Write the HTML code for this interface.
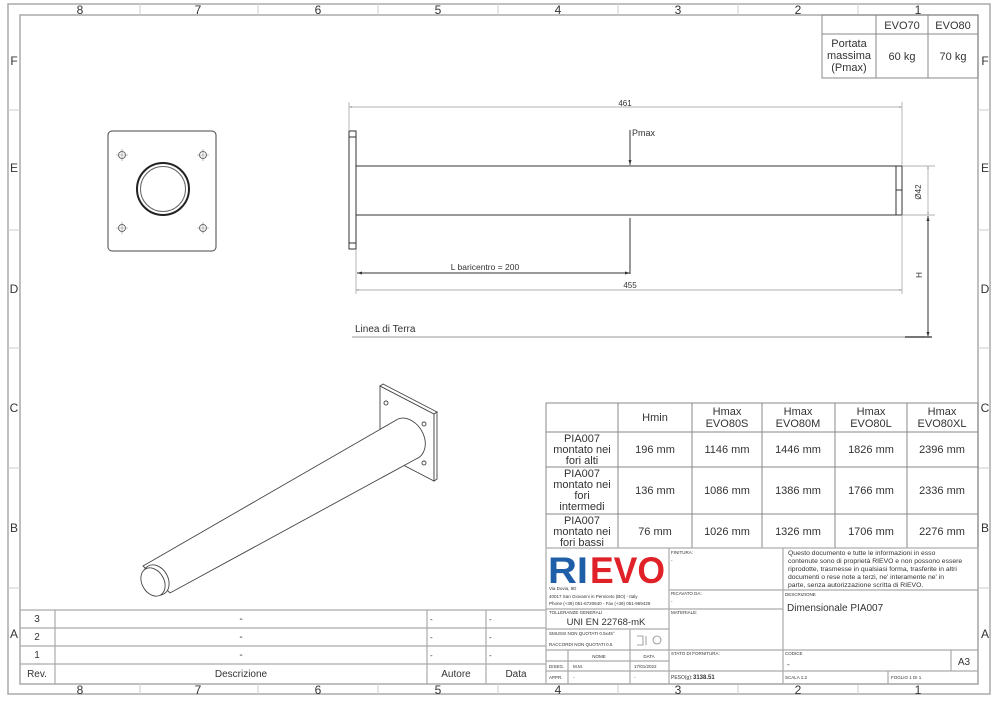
<!DOCTYPE html>
<html><head><meta charset="utf-8"><style>
html,body{margin:0;padding:0;background:#fff}
svg{display:block}
text{font-family:"Liberation Sans",sans-serif;fill:#333}
</style></head><body>
<svg width="1000" height="704" viewBox="0 0 1000 704" xmlns="http://www.w3.org/2000/svg">
<defs>
<marker id="ar" viewBox="0 0 10 10" refX="10" refY="5" markerWidth="7" markerHeight="5" orient="auto-start-reverse"><path d="M0,2 L10,5 L0,8 z" fill="#333"/></marker>
<marker id="arl" viewBox="0 0 10 10" refX="10" refY="5" markerWidth="6" markerHeight="4" orient="auto-start-reverse"><path d="M0,2 L10,5 L0,8 z" fill="#999"/></marker>
</defs>
<rect width="1000" height="704" fill="#fff"/>
<rect x="8" y="4" width="982" height="690" fill="none" stroke="#aaa" stroke-width="1.5"/>
<rect x="20" y="15" width="958" height="669" fill="none" stroke="#aaa" stroke-width="1.5"/>
<g stroke="#ccc" stroke-width="1">
<line x1="140" y1="4" x2="140" y2="15"/><line x1="258" y1="4" x2="258" y2="15"/><line x1="378" y1="4" x2="378" y2="15"/><line x1="498" y1="4" x2="498" y2="15"/><line x1="618" y1="4" x2="618" y2="15"/><line x1="738" y1="4" x2="738" y2="15"/><line x1="858" y1="4" x2="858" y2="15"/>
<line x1="140" y1="684" x2="140" y2="694"/><line x1="258" y1="684" x2="258" y2="694"/><line x1="378" y1="684" x2="378" y2="694"/><line x1="498" y1="684" x2="498" y2="694"/><line x1="618" y1="684" x2="618" y2="694"/><line x1="738" y1="684" x2="738" y2="694"/><line x1="858" y1="684" x2="858" y2="694"/>
<line x1="8" y1="110" x2="20" y2="110"/><line x1="8" y1="230" x2="20" y2="230"/><line x1="8" y1="348" x2="20" y2="348"/><line x1="8" y1="468" x2="20" y2="468"/><line x1="8" y1="588" x2="20" y2="588"/>
<line x1="978" y1="110" x2="990" y2="110"/><line x1="978" y1="230" x2="990" y2="230"/><line x1="978" y1="348" x2="990" y2="348"/><line x1="978" y1="468" x2="990" y2="468"/><line x1="978" y1="588" x2="990" y2="588"/>
</g>
<g font-size="12" text-anchor="middle">
<text x="80" y="14">8</text><text x="198" y="14">7</text><text x="318" y="14">6</text><text x="438" y="14">5</text><text x="558" y="14">4</text><text x="678" y="14">3</text><text x="798" y="14">2</text><text x="918" y="14">1</text>
<text x="80" y="694">8</text><text x="198" y="694">7</text><text x="318" y="694">6</text><text x="438" y="694">5</text><text x="558" y="694">4</text><text x="678" y="694">3</text><text x="798" y="694">2</text><text x="918" y="694">1</text>
<text x="14" y="65">F</text><text x="14" y="172">E</text><text x="14" y="293">D</text><text x="14" y="412">C</text><text x="14" y="532">B</text><text x="14" y="638">A</text>
<text x="985" y="65">F</text><text x="985" y="172">E</text><text x="985" y="293">D</text><text x="985" y="412">C</text><text x="985" y="532">B</text><text x="985" y="638">A</text>
</g>
<g stroke="#888" fill="none" stroke-width="1">
<rect x="822" y="15" width="156" height="63"/>
<line x1="876" y1="15" x2="876" y2="78"/><line x1="928" y1="15" x2="928" y2="78"/><line x1="822" y1="34" x2="978" y2="34"/>
</g>
<g font-size="11" text-anchor="middle">
<text x="902" y="29">EVO70</text><text x="953" y="29">EVO80</text>
<text x="849" y="47">Portata</text><text x="849" y="59">massima</text><text x="849" y="71">(Pmax)</text>
<text x="902" y="60">60 kg</text><text x="953" y="60">70 kg</text>
</g>
<rect x="108" y="131" width="108" height="120" rx="4" fill="none" stroke="#444" stroke-width="1"/>
<circle cx="163" cy="189" r="26" fill="none" stroke="#222" stroke-width="2"/>
<circle cx="163" cy="189" r="22.5" fill="none" stroke="#666" stroke-width="1"/>
<g fill="none" stroke="#444" stroke-width="0.8">
<circle cx="122" cy="155" r="3.5"/><circle cx="203" cy="155" r="3.5"/><circle cx="122" cy="228" r="3.5"/><circle cx="203" cy="228" r="3.5"/>
<path d="M116,155h12M122,149v12M197,155h12M203,149v12M116,228h12M122,222v12M197,228h12M203,222v12" stroke="#888" stroke-width="0.6"/>
</g>
<g fill="none" stroke="#333" stroke-width="1">
<rect x="349" y="131" width="7" height="118"/>
<line x1="349" y1="137" x2="356" y2="137"/><line x1="349" y1="243" x2="356" y2="243"/>
<line x1="356" y1="166" x2="902" y2="166"/><line x1="356" y1="215" x2="902" y2="215"/>
<rect x="896" y="166" width="6" height="49"/>
<line x1="896" y1="190" x2="902" y2="190"/>
</g>
<g stroke="#999" stroke-width="0.7" fill="none">
<line x1="349" y1="102" x2="349" y2="131"/><line x1="902" y1="102" x2="902" y2="166"/>
<line x1="349" y1="107" x2="902" y2="107" marker-start="url(#arl)" marker-end="url(#arl)"/>
<line x1="902" y1="215" x2="902" y2="294"/>
<line x1="356" y1="290" x2="902" y2="290" marker-start="url(#arl)" marker-end="url(#arl)"/>
<line x1="356" y1="249" x2="356" y2="294"/>
<line x1="902" y1="166" x2="935" y2="166"/><line x1="902" y1="215" x2="935" y2="215"/>
<line x1="928" y1="166" x2="928" y2="215" marker-start="url(#arl)" marker-end="url(#arl)"/>
<line x1="352" y1="337" x2="925" y2="337" stroke="#bbb" stroke-width="1.5"/>
</g>
<text x="625" y="106" font-size="8" fill="#888" text-anchor="middle">461</text>
<text x="630" y="288" font-size="8" fill="#888" text-anchor="middle">455</text>
<text x="921" y="192" font-size="8" fill="#888" text-anchor="middle" transform="rotate(-90 921 192)">Ø42</text>
<g stroke="#333" stroke-width="1" fill="none">
<line x1="630" y1="130" x2="630" y2="165" marker-end="url(#ar)"/>
<line x1="630" y1="218" x2="630" y2="274"/>
<line x1="357" y1="273" x2="630" y2="273" marker-start="url(#ar)" marker-end="url(#ar)"/>
<line x1="928" y1="216" x2="928" y2="337" marker-start="url(#ar)" marker-end="url(#ar)"/>
<line x1="905" y1="337" x2="932" y2="337" stroke="#555" stroke-width="1.5"/>
</g>
<text x="632" y="136" font-size="9">Pmax</text>
<text x="485" y="270" font-size="8.5" text-anchor="middle">L baricentro = 200</text>
<text x="922" y="275" font-size="8" text-anchor="middle" transform="rotate(-90 922 275)">H</text>
<text x="355" y="332" font-size="10">Linea di Terra</text>
<g fill="#fff" stroke="#444" stroke-width="0.9">
<polygon points="380,386 434,414 434,481 380,453"/>
<polygon points="380,386 383,384 437,412 434,414"/>
<polygon points="434,414 437,412 437,479 434,481"/>
<path d="M143,566 L398,419 A13,17 -30 0 1 416,459 L170,593 Z"/>
<ellipse cx="156" cy="580" rx="12" ry="16" transform="rotate(-30 156 580)"/>
<ellipse cx="153" cy="582" rx="11" ry="15" transform="rotate(-30 153 582)"/>
<circle cx="386" cy="403" r="2"/><circle cx="424" cy="424" r="2"/><circle cx="424" cy="463" r="2"/>
</g>
<g stroke="#888" fill="none" stroke-width="1">
<rect x="546" y="403" width="432" height="145"/>
<line x1="618" y1="403" x2="618" y2="548"/><line x1="692" y1="403" x2="692" y2="548"/><line x1="762" y1="403" x2="762" y2="548"/><line x1="835" y1="403" x2="835" y2="548"/><line x1="907" y1="403" x2="907" y2="548"/>
<line x1="546" y1="432" x2="978" y2="432"/><line x1="546" y1="467" x2="978" y2="467"/><line x1="546" y1="514" x2="978" y2="514"/>
</g>
<g font-size="11" text-anchor="middle">
<text x="655" y="421">Hmin</text>
<text x="727" y="415">Hmax</text><text x="727" y="427">EVO80S</text>
<text x="798" y="415">Hmax</text><text x="798" y="427">EVO80M</text>
<text x="871" y="415">Hmax</text><text x="871" y="427">EVO80L</text>
<text x="942" y="415">Hmax</text><text x="942" y="427">EVO80XL</text>
<text x="582" y="442">PIA007</text><text x="582" y="453">montato nei</text><text x="582" y="464">fori alti</text>
<text x="582" y="477">PIA007</text><text x="582" y="488">montato nei</text><text x="582" y="499">fori</text><text x="582" y="510">intermedi</text>
<text x="582" y="524">PIA007</text><text x="582" y="535">montato nei</text><text x="582" y="546">fori bassi</text>
<text x="655" y="453">196 mm</text><text x="727" y="453">1146 mm</text><text x="798" y="453">1446 mm</text><text x="871" y="453">1826 mm</text><text x="942" y="453">2396 mm</text>
<text x="655" y="494">136 mm</text><text x="727" y="494">1086 mm</text><text x="798" y="494">1386 mm</text><text x="871" y="494">1766 mm</text><text x="942" y="494">2336 mm</text>
<text x="655" y="535">76 mm</text><text x="727" y="535">1026 mm</text><text x="798" y="535">1326 mm</text><text x="871" y="535">1706 mm</text><text x="942" y="535">2276 mm</text>
</g>
<g stroke="#aaa" fill="none" stroke-width="1.2">
<rect x="546" y="548" width="432" height="136"/>
<line x1="669" y1="548" x2="669" y2="684"/><line x1="783" y1="548" x2="783" y2="684"/>
<line x1="546" y1="609" x2="669" y2="609"/><line x1="546" y1="629" x2="669" y2="629"/><line x1="546" y1="650" x2="669" y2="650"/><line x1="546" y1="661" x2="669" y2="661"/><line x1="546" y1="671" x2="669" y2="671"/>
<line x1="568" y1="650" x2="568" y2="684"/><line x1="630" y1="629" x2="630" y2="684"/>
<line x1="669" y1="590" x2="978" y2="590"/><line x1="669" y1="609" x2="783" y2="609"/><line x1="669" y1="650" x2="978" y2="650"/><line x1="669" y1="671" x2="978" y2="671"/>
<line x1="951" y1="650" x2="951" y2="671"/><line x1="888" y1="671" x2="888" y2="684"/>
</g>
<text x="548" y="583" font-size="37" font-weight="bold" style="fill:#1f5fa8" textLength="40" lengthAdjust="spacingAndGlyphs">RI</text>
<text x="590" y="583" font-size="37" font-weight="bold" style="fill:#e02127" textLength="75" lengthAdjust="spacingAndGlyphs">EVO</text>
<g font-size="4.5" fill="#555">
<text x="549" y="590">Via Dovia, 9D</text>
<text x="549" y="598">40017 San Giovanni in Persiceto (BO) - Italy</text>
<text x="549" y="605">Phone (+39) 051-6720640 - Fax (+39) 051-969429</text>
<text x="549" y="614">TOLLERANZE GENERALI</text>
<text x="549" y="635">SMUSSI NON QUOTATI  0.5x45°</text>
<text x="549" y="646">RACCORDI NON QUOTATI  0.5</text>
<text x="599" y="658" text-anchor="middle">NOME</text><text x="649" y="658" text-anchor="middle">DATA</text>
<text x="549" y="668">DISEG.</text><text x="573" y="668">M.M.</text><text x="634" y="668">17/01/2022</text>
<text x="549" y="679">APPR.</text><text x="573" y="679">-</text><text x="634" y="679">-</text>
<text x="671" y="554">FINITURA:</text><text x="671" y="562">-</text>
<text x="671" y="595">RICAVATO DA:</text><text x="671" y="603">-</text>
<text x="671" y="614">MATERIALE:</text>
<text x="671" y="655">STATO DI FORNITURA:</text>
<text x="785" y="596">DESCRIZIONE</text>
<text x="785" y="655">CODICE</text>
<text x="785" y="679">SCALA 1:2</text><text x="891" y="679">FOGLIO 1 DI 1</text>
</g>
<text x="671" y="679" font-size="5" fill="#555">PESO(g):</text>
<text x="693" y="679" font-size="6" font-weight="bold">3138.51</text>
<text x="606" y="625" font-size="9.5" text-anchor="middle">UNI EN 22768-mK</text>
<g fill="none" stroke="#888" stroke-width="0.8"><path d="M637,636 h6 v9 h-6 M646,636 v9"/><circle cx="657" cy="640" r="4"/></g>
<g font-size="6.8">
<text x="788" y="555">Questo documento e tutte le informazioni in esso</text>
<text x="788" y="563">contenute sono di proprietà RIEVO e non possono essere</text>
<text x="788" y="571">riprodotte, trasmesse in qualsiasi forma, trasferite in altri</text>
<text x="788" y="579">documenti o rese note a terzi, ne' interamente ne' in</text>
<text x="788" y="587">parte, senza autorizzazione scritta di RIEVO.</text>
</g>
<text x="787" y="611" font-size="10">Dimensionale PIA007</text>
<text x="787" y="667" font-size="8">-</text>
<text x="964" y="665" font-size="10" text-anchor="middle">A3</text>
<g stroke="#aaa" fill="none" stroke-width="1.2">
<line x1="20" y1="610" x2="546" y2="610"/><line x1="20" y1="628" x2="546" y2="628"/><line x1="20" y1="646" x2="546" y2="646"/><line x1="20" y1="664" x2="546" y2="664"/>
<line x1="55" y1="610" x2="55" y2="684"/><line x1="427" y1="610" x2="427" y2="684"/><line x1="486" y1="610" x2="486" y2="684"/>
</g>
<g font-size="10" text-anchor="middle">
<text x="37" y="622">3</text><text x="37" y="640">2</text><text x="37" y="658">1</text><text x="37" y="677">Rev.</text>
<text x="241" y="622">-</text><text x="241" y="640">-</text><text x="241" y="658">-</text><text x="241" y="677">Descrizione</text>
<text x="456" y="677">Autore</text><text x="516" y="677">Data</text>
</g>
<g font-size="8"><text x="430" y="622">-</text><text x="430" y="640">-</text><text x="430" y="658">-</text><text x="489" y="622">-</text><text x="489" y="640">-</text><text x="489" y="658">-</text></g>
</svg>
</body></html>
